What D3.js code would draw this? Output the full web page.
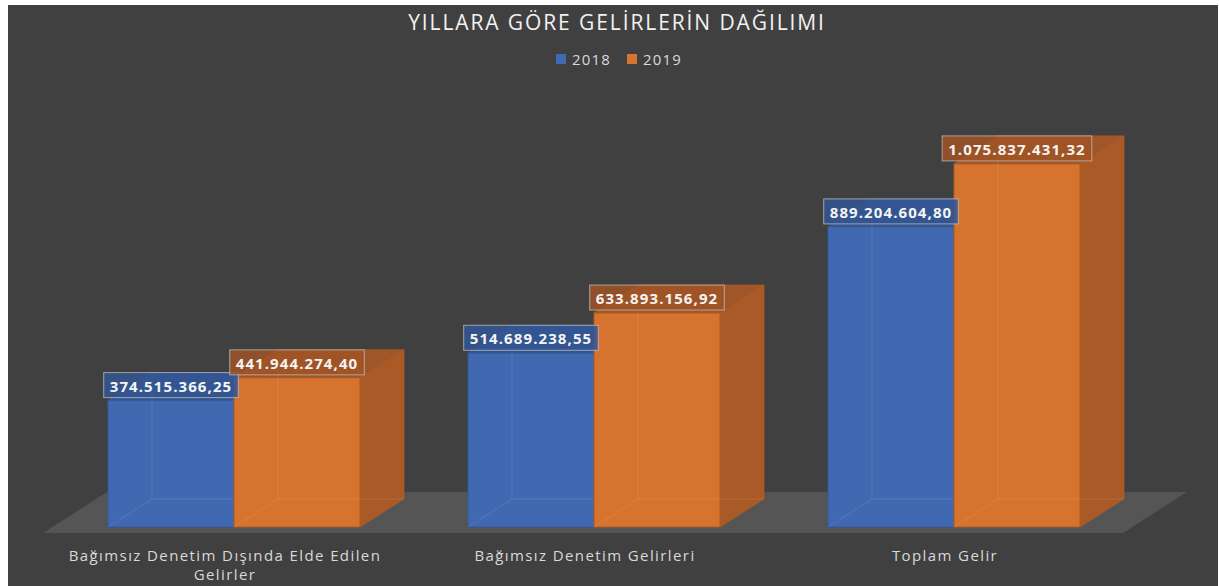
<!DOCTYPE html>
<html>
<head>
<meta charset="utf-8">
<script src="https://cdn.jsdelivr.net/npm/d3@7"></script>
<style>
  html, body { margin: 0; padding: 0; background: #ffffff; }
  svg { display: block; }
</style>
</head>
<body>
<div id="chart"></div>
<script>
// Data
const categories = ["Bağımsız Denetim Dışında Elde Edilen Gelirler", "Bağımsız Denetim Gelirleri", "Toplam Gelir"];
const years = ["2018", "2019"];
const values2018 = [374515366.25, 514689238.55, 889204604.80];
const values2019 = [441944274.40, 633893156.92, 1075837431.32];

const width = 1219;
const height = 586;

// colours per series: front, top, side, edge, label box
const palette = {
    "2018": { front: "#4169b1", top: "#34568f", side: "#2f4e85", edge: "#35599a", box: "rgba(52,86,148,0.85)" },
    "2019": { front: "#d6732f", top: "#9f5628", side: "#a95a26", edge: "#ad5b22", box: "rgba(160,84,38,0.85)" }
};

const rows = categories.map((c, i) => ({ cat: c, vals: { "2018": values2018[i], "2019": values2019[i] } }));

const svg = d3.select("#chart").append("svg")
    .attr("width", width)
    .attr("height", height);

// outer white frame + dark chart area
svg.append("rect").attr("x", 8).attr("y", 5).attr("width", width - 9).attr("height", height - 5).attr("fill", "#404040");

// scales
const x = d3.scaleBand().domain(categories).range([54, 1134]).paddingInner(0.3).paddingOuter(0.15);
const x1 = d3.scaleBand().domain(years).range([0, x.bandwidth()]);
const y = d3.scaleLinear().domain([0, 1.2e9]).range([527, 122]);

const dx = 44, dy = -28;

// floor
const fx0 = x.range()[0] - 11, fx1 = x.range()[1] - 11, fy = y(0) + 6;
svg.append("path")
    .attr("d", `M${fx0},${fy} L${fx1},${fy} L${fx1 + 64},${fy - 41} L${fx0 + 64},${fy - 41} Z`)
    .attr("fill", "#555555");

// title
svg.append("text")
    .attr("x", 617).attr("y", 30)
    .attr("text-anchor", "middle")
    .attr("font-family", "Open Sans")
    .attr("font-size", 21)
    .attr("letter-spacing", 1.9)
    .attr("fill", "#f2f2f2")
    .text("YILLARA GÖRE GELİRLERİN DAĞILIMI");

// legend
const legend = svg.append("g").attr("font-family", "Open Sans").attr("font-size", 15)
    .attr("letter-spacing", 1.2).attr("fill", "#d9d9d9");
const legendX = { "2018": 556, "2019": 627 };
years.forEach(yr => {
    legend.append("rect").attr("x", legendX[yr]).attr("y", 54).attr("width", 10).attr("height", 10).attr("fill", palette[yr].front);
    legend.append("text").attr("x", legendX[yr] + 16).attr("y", 64.5).text(yr);
});

// bars
const groups = svg.selectAll(".grp")
    .data(rows)
    .enter().append("g")
    .attr("class", "grp")
    .attr("transform", d => `translate(${x(d.cat)},0)`);

years.forEach(yr => {
    const c = palette[yr];
    groups.each(function(d) {
        const g = d3.select(this);
        const x0 = x1(yr), w = x1.bandwidth();
        const top = y(d.vals[yr]), bot = y(0);
        // top face
        g.append("path")
            .attr("d", `M${x0},${top} L${x0 + w},${top} L${x0 + w + dx},${top + dy} L${x0 + dx},${top + dy} Z`)
            .attr("fill", c.top).attr("stroke", c.edge).attr("stroke-width", 0.8);
        // side face
        g.append("path")
            .attr("d", `M${x0 + w},${top} L${x0 + w + dx},${top + dy} L${x0 + w + dx},${bot + dy} L${x0 + w},${bot} Z`)
            .attr("fill", c.side).attr("stroke", c.edge).attr("stroke-width", 0.8);
        // front face
        g.append("rect")
            .attr("x", x0).attr("y", top).attr("width", w).attr("height", bot - top)
            .attr("fill", c.front).attr("stroke", c.edge).attr("stroke-width", 1);
        // hidden back edges seen through the front
        g.append("path")
            .attr("d", `M${x0},${bot} L${x0 + dx},${bot + dy} L${x0 + w + dx},${bot + dy} M${x0 + dx},${bot + dy} L${x0 + dx},${top + dy}`)
            .attr("fill", "none").attr("stroke", "#ffffff").attr("stroke-opacity", 0.1).attr("stroke-width", 1);
    });
});

// data labels
const fmt = v => {
    const [int, dec] = v.toFixed(2).split(".");
    return int.replace(/\B(?=(\d{3})+(?!\d))/g, ".") + "," + dec;
};

years.forEach(yr => {
    groups.each(function(d) {
        const g = d3.select(this);
        const cx = x1(yr) + x1.bandwidth() / 2;
        const top = y(d.vals[yr]);
        const lab = g.append("g");
        const box = lab.append("rect");
        const t = lab.append("text")
            .attr("x", cx).attr("y", top - 9)
            .attr("text-anchor", "middle")
            .attr("font-family", "Open Sans")
            .attr("font-weight", "bold")
            .attr("font-size", 15)
            .attr("letter-spacing", 1.1)
            .attr("fill", "#f4f4f4")
            .text(fmt(d.vals[yr]));
        const tw = t.node().getComputedTextLength();
        box.attr("x", cx - tw / 2 - 6).attr("y", top - 28).attr("width", tw + 12).attr("height", 25)
            .attr("fill", palette[yr].box)
            .attr("stroke", "#c8c8c8").attr("stroke-opacity", 0.7).attr("stroke-width", 1);
    });
});

// category axis labels
const xAxis = svg.append("g")
    .attr("transform", `translate(-9,${y(0)})`)
    .call(d3.axisBottom(x).tickSize(0).tickPadding(0));
xAxis.select(".domain").remove();
xAxis.selectAll("text")
    .attr("font-family", "Open Sans")
    .attr("font-size", 15)
    .attr("letter-spacing", 1.4)
    .attr("fill", "#d9d9d9")
    .attr("dy", null)
    .attr("y", 34)
    .call(wrap, 320);

function wrap(texts, maxW) {
    texts.each(function() {
        const text = d3.select(this);
        const words = text.text().split(/\s+/);
        text.text(null);
        let line = [];
        let tspan = text.append("tspan").attr("x", 0).attr("y", 34);
        let lineNo = 0;
        words.forEach(wd => {
            line.push(wd);
            tspan.text(line.join(" "));
            if (tspan.node().getComputedTextLength() > maxW && line.length > 1) {
                line.pop();
                tspan.text(line.join(" "));
                line = [wd];
                lineNo++;
                tspan = text.append("tspan").attr("x", 0).attr("y", 34 + lineNo * 19).text(wd);
            }
        });
    });
}
</script>
</body>
</html>
